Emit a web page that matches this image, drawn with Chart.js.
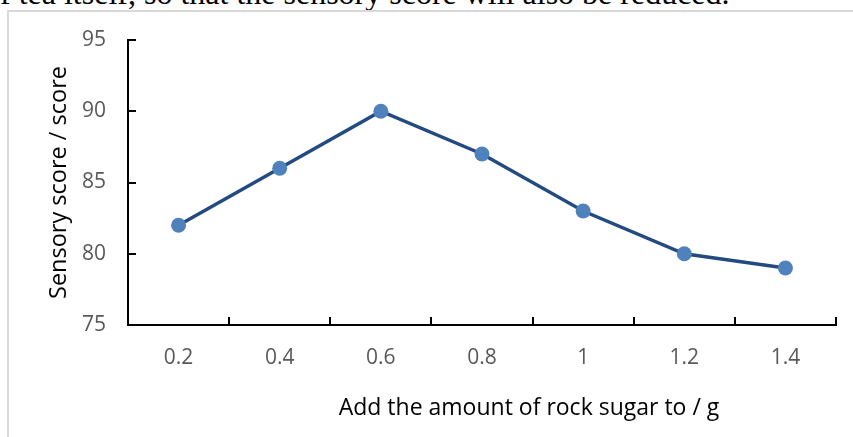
<!DOCTYPE html>
<html>
<head>
<meta charset="utf-8">
<script src="https://cdn.jsdelivr.net/npm/chart.js@4/dist/chart.umd.min.js"></script>
<style>
  html, body { margin: 0; padding: 0; background: #fff; }
  #wrap { position: relative; width: 853px; height: 437px; overflow: hidden; background: #fff; }
  #toptext { position: absolute; left: 0; top: -23px; font-family: "Liberation Serif", "Times New Roman", serif; font-size: 32px; line-height: 32px; white-space: nowrap; color: #000; }
  #frame { position: absolute; left: 7px; top: 10px; width: 900px; height: 500px; border-left: 2px solid #d9d9d9; border-top: 2px solid #d9d9d9; box-sizing: border-box; }
  canvas { position: absolute; left: 0; top: 0; }
</style>
</head>
<body>
<div id="wrap">
  <div id="toptext">f tea itself, so that the sensory score will also be reduced.</div>
  <div id="frame"></div>
  <canvas id="c" width="853" height="437"></canvas>
</div>
<script>
const categories = ['0.2', '0.4', '0.6', '0.8', '1', '1.2', '1.4'];
const scores = [82, 86, 90, 87, 83, 80, 79];
const yMin = 75, yMax = 95, yStep = 5;
const xTitle = 'Add the amount of rock sugar to / g';
const yTitle = 'Sensory score / score';

const FONT = '"Open Sans", "Liberation Sans", sans-serif';

const innerTicks = {
  id: 'innerTicks',
  afterDraw(chart) {
    const ctx = chart.ctx;
    const x = chart.scales.x, y = chart.scales.y;
    const ca = chart.chartArea;
    ctx.save();
    ctx.strokeStyle = '#000';
    ctx.lineWidth = 2;
    ctx.beginPath();
    for (let i = 0; i < categories.length; i++) {
      const px = Math.round(x.getPixelForValue(i + 0.5));
      ctx.moveTo(px, ca.bottom);
      ctx.lineTo(px, ca.bottom - 8);
    }
    for (let v = yMin; v <= yMax; v += yStep) {
      const py = Math.round(y.getPixelForValue(v));
      ctx.moveTo(ca.left, py);
      ctx.lineTo(ca.left + 8, py);
    }
    ctx.stroke();
    // x axis title
    ctx.fillStyle = '#000';
    ctx.font = '23px ' + FONT;
    ctx.textAlign = 'center';
    ctx.textBaseline = 'middle';
    ctx.fillText(xTitle, (ca.left + ca.right) / 2 + 47, 408);
    ctx.restore();
  }
};

new Chart(document.getElementById('c'), {
  type: 'line',
  data: {
    labels: categories,
    datasets: [{
      data: scores,
      borderColor: '#244B81',
      borderWidth: 3.5,
      backgroundColor: '#4F81BD',
      pointBackgroundColor: '#4F81BD',
      pointBorderColor: '#4F81BD',
      pointBorderWidth: 0,
      pointRadius: 7.5,
      tension: 0,
      fill: false
    }]
  },
  options: {
    responsive: false,
    animation: false,
    devicePixelRatio: 1,
    layout: { padding: { left: 0, top: 40, right: 17, bottom: 0 } },
    plugins: { legend: { display: false }, tooltip: { enabled: false } },
    scales: {
      x: {
        type: 'category',
        offset: true,
        grid: { display: true, offset: true, drawOnChartArea: false, drawTicks: false, color: 'rgba(0,0,0,0)' },
        border: { display: true, color: '#000', width: 2 },
        ticks: { color: '#595959', font: { family: FONT, size: 21 }, padding: 20, maxRotation: 0 },
        afterFit(s) { s.height = 112; }
      },
      y: {
        min: yMin, max: yMax,
        grid: { display: true, drawOnChartArea: false, drawTicks: false, color: 'rgba(0,0,0,0)' },
        border: { display: true, color: '#000', width: 2 },
        ticks: { stepSize: yStep, color: '#595959', font: { family: FONT, size: 21 }, padding: 22 },
        title: { display: true, text: yTitle, color: '#000', font: { family: FONT, size: 23.5 }, padding: { top: 45, bottom: 0 } },
        afterFit(s) { s.width = 128; }
      }
    }
  },
  plugins: [innerTicks]
});
</script>
</body>
</html>
